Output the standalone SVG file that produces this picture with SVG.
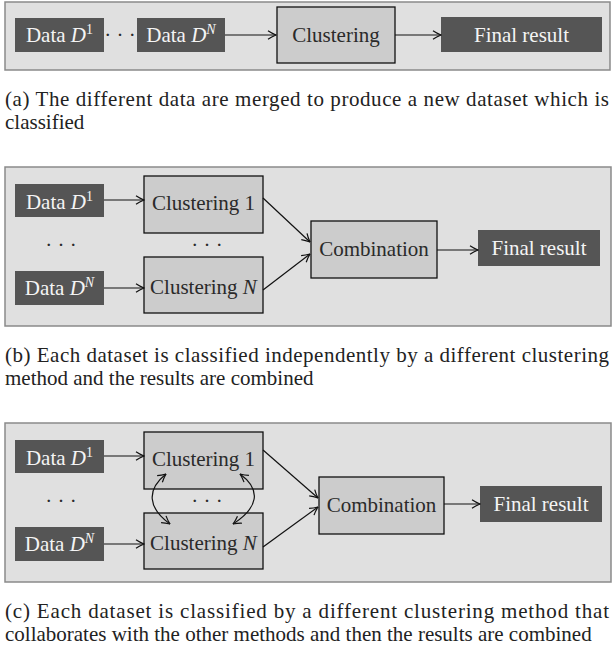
<svg xmlns="http://www.w3.org/2000/svg" width="614" height="653" viewBox="0 0 614 653">
<style>
.panel{fill:#e0e0e0;stroke:#8a8a8a;stroke-width:1.5}
.dark{fill:#555555}
.light{fill:#cccccc;stroke:#111;stroke-width:1.3}
.t{font-family:"Liberation Serif","Times New Roman",serif;font-size:21px;text-anchor:middle}
.tw{fill:#f4f4f4}
.tb{fill:#2a2a2a}
.cap{font-family:"Liberation Serif","Times New Roman",serif;font-size:21px;fill:#222}
.ln{stroke:#111;stroke-width:1.2;fill:none}
.sup{font-size:14px}
</style>
<defs>
<marker id="ah" viewBox="0 0 10 10" refX="9.5" refY="5" markerWidth="10" markerHeight="10" markerUnits="userSpaceOnUse" orient="auto-start-reverse">
<path d="M1.5,0.8 Q5,3.2 9.5,5 Q5,6.8 1.5,9.2" fill="none" stroke="#111" stroke-width="1.2"/>
</marker>
</defs>

<!-- Panel (a) -->
<rect class="panel" x="5" y="2" width="605" height="68"/>
<g id="a-data1"><rect class="dark" x="15" y="18" width="89" height="34"/><text class="t tw" x="59.5" y="42">Data <tspan font-style="italic">D</tspan><tspan class="sup" dy="-8">1</tspan></text></g>
<g id="a-dots"><text class="t tb" x="120" y="42">· · ·</text></g>
<g id="a-dataN"><rect class="dark" x="137" y="18" width="88" height="34"/><text class="t tw" x="181" y="42">Data <tspan font-style="italic">D</tspan><tspan class="sup" font-style="italic" dy="-8">N</tspan></text></g>
<g id="a-clustering"><rect class="light" x="277" y="7" width="118" height="56"/><text class="t tb" x="336" y="42">Clustering</text></g>
<g id="a-final"><rect class="dark" x="441" y="17" width="161" height="35"/><text class="t tw" x="521.5" y="42">Final result</text></g>
<g id="a-connectors">
<line class="ln" x1="225" y1="35" x2="276" y2="35" marker-end="url(#ah)"/>
<line class="ln" x1="395" y1="35" x2="441" y2="35" marker-end="url(#ah)"/>
</g>
<text class="cap" x="5" y="106" textLength="604" lengthAdjust="spacing">(a) The different data are merged to produce a new dataset which is</text>
<text class="cap" x="5" y="129">classified</text>

<!-- Panel (b) -->
<rect class="panel" x="5" y="167" width="606" height="159"/>
<g id="b-data1"><rect class="dark" x="15" y="184" width="89" height="33"/><text class="t tw" x="59.5" y="209">Data <tspan font-style="italic">D</tspan><tspan class="sup" dy="-8">1</tspan></text></g>
<g id="b-dataN"><rect class="dark" x="15" y="271" width="89" height="34"/><text class="t tw" x="59.5" y="295">Data <tspan font-style="italic">D</tspan><tspan class="sup" font-style="italic" dy="-8">N</tspan></text></g>
<g id="b-dots1"><text class="t tb" x="61" y="252">· · ·</text></g>
<g id="b-dots2"><text class="t tb" x="207" y="252">· · ·</text></g>
<g id="b-clust1"><rect class="light" x="144" y="176" width="119" height="57"/><text class="t tb" x="203.5" y="210">Clustering 1</text></g>
<g id="b-clustN"><rect class="light" x="144" y="257" width="119" height="56"/><text class="t tb" x="203.5" y="294">Clustering <tspan font-style="italic">N</tspan></text></g>
<g id="b-comb"><rect class="light" x="311" y="221" width="126" height="57"/><text class="t tb" x="374" y="256">Combination</text></g>
<g id="b-final"><rect class="dark" x="478" y="230" width="122" height="36"/><text class="t tw" x="539" y="255">Final result</text></g>
<g id="b-connectors">
<line class="ln" x1="104" y1="200" x2="144" y2="200" marker-end="url(#ah)"/>
<line class="ln" x1="104" y1="288" x2="144" y2="288" marker-end="url(#ah)"/>
<line class="ln" x1="263" y1="198" x2="310" y2="242" marker-end="url(#ah)"/>
<line class="ln" x1="263" y1="290" x2="310" y2="254" marker-end="url(#ah)"/>
<line class="ln" x1="437" y1="250" x2="478" y2="250" marker-end="url(#ah)"/>
</g>
<text class="cap" x="5" y="362" textLength="604" lengthAdjust="spacing">(b) Each dataset is classified independently by a different clustering</text>
<text class="cap" x="5" y="385">method and the results are combined</text>

<!-- Panel (c) -->
<rect class="panel" x="5" y="423" width="606" height="159"/>
<g id="c-data1"><rect class="dark" x="15" y="440" width="89" height="33"/><text class="t tw" x="59.5" y="465">Data <tspan font-style="italic">D</tspan><tspan class="sup" dy="-8">1</tspan></text></g>
<g id="c-dataN"><rect class="dark" x="15" y="527" width="89" height="34"/><text class="t tw" x="59.5" y="551">Data <tspan font-style="italic">D</tspan><tspan class="sup" font-style="italic" dy="-8">N</tspan></text></g>
<g id="c-dots1"><text class="t tb" x="61" y="508">· · ·</text></g>
<g id="c-dots2"><text class="t tb" x="207" y="508">· · ·</text></g>
<g id="c-clust1"><rect class="light" x="144" y="432" width="119" height="57"/><text class="t tb" x="203.5" y="466">Clustering 1</text></g>
<g id="c-clustN"><rect class="light" x="144" y="513" width="119" height="56"/><text class="t tb" x="203.5" y="550">Clustering <tspan font-style="italic">N</tspan></text></g>
<g id="c-comb"><rect class="light" x="319" y="477" width="125" height="57"/><text class="t tb" x="381.5" y="512">Combination</text></g>
<g id="c-final"><rect class="dark" x="480" y="486" width="122" height="36"/><text class="t tw" x="541" y="511">Final result</text></g>
<g id="c-connectors">
<line class="ln" x1="104" y1="456" x2="144" y2="456" marker-end="url(#ah)"/>
<line class="ln" x1="104" y1="544" x2="144" y2="544" marker-end="url(#ah)"/>
<line class="ln" x1="263" y1="450" x2="318" y2="498" marker-end="url(#ah)"/>
<line class="ln" x1="263" y1="547" x2="318" y2="507" marker-end="url(#ah)"/>
<line class="ln" x1="444" y1="504" x2="480" y2="504" marker-end="url(#ah)"/>
<path class="ln" d="M166,474 C146,490 148,508 170,524" marker-start="url(#ah)" marker-end="url(#ah)"/>
<path class="ln" d="M240,474 C262,490 258,508 233,524" marker-start="url(#ah)" marker-end="url(#ah)"/>
</g>
<text class="cap" x="5" y="618" textLength="604" lengthAdjust="spacing">(c) Each dataset is classified by a different clustering method that</text>
<text class="cap" x="5" y="641">collaborates with the other methods and then the results are combined</text>
</svg>
